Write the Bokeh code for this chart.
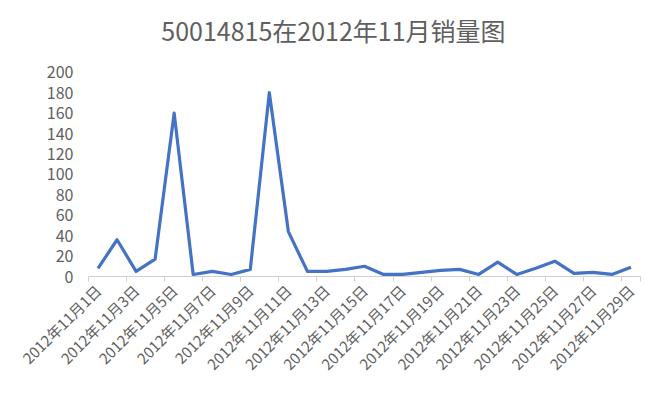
import math
from bokeh.plotting import figure
from bokeh.models import FixedTicker, Range1d, Label
from bokeh.embed import file_html
from bokeh.resources import INLINE

days = list(range(1, 30))
day_labels = [f"2012年11月{d}日" for d in days]
sales = [8, 36, 5, 17, 160, 2, 5, 2, 7, 180, 44, 5, 5, 7, 10, 2, 2, 4, 6, 7,
         2, 14, 2, 8, 15, 3, 4, 2, 9]
y_ticks = list(range(0, 201, 20))
title_text = "50014815在2012年11月销量图"

FONT = "Noto Sans CJK SC"
GREY = "#5f5f5f"

# the frame is extended upward (no visible axis line / grid) so that the
# chart title can sit inside it as a label
p = figure(width=650, height=384, output_backend="svg", toolbar_location=None,
           x_range=Range1d(0.5, 29.5), y_range=Range1d(0, 260.5),
           min_border_left=88, min_border_right=10, min_border_top=10,
           min_border_bottom=107)

p.add_layout(Label(x=13.37, y=241, text=title_text, text_align="center",
                   text_baseline="middle", text_font=FONT,
                   text_font_size="25px", text_color=GREY))

p.line(days, sales, line_color="#4472C4", line_width=3.2, line_join="round")

p.grid.visible = False
p.outline_line_color = None

xa = p.xaxis[0]
xa.ticker = FixedTicker(ticks=days[::2], minor_ticks=[d - 0.5 for d in days[::2]] + [29.5])
xa.major_label_overrides = {d: day_labels[d - 1] for d in days}
xa.major_label_orientation = math.pi / 4
xa.major_tick_line_color = None
xa.minor_tick_line_color = "#d0d0d0"
xa.minor_tick_out = 5
xa.minor_tick_in = 0
xa.axis_line_color = "#d0d0d0"
xa.major_label_text_font = FONT
xa.major_label_text_font_size = "15px"
xa.major_label_text_color = GREY
xa.major_label_standoff = 5

ya = p.yaxis[0]
ya.ticker = FixedTicker(ticks=y_ticks)
ya.axis_line_color = None
ya.major_tick_line_color = None
ya.minor_tick_line_color = None
ya.major_label_text_font = FONT
ya.major_label_text_font_size = "16px"
ya.major_label_text_color = GREY
ya.major_label_standoff = 9

open("out.html", "w").write(file_html(p, INLINE))
